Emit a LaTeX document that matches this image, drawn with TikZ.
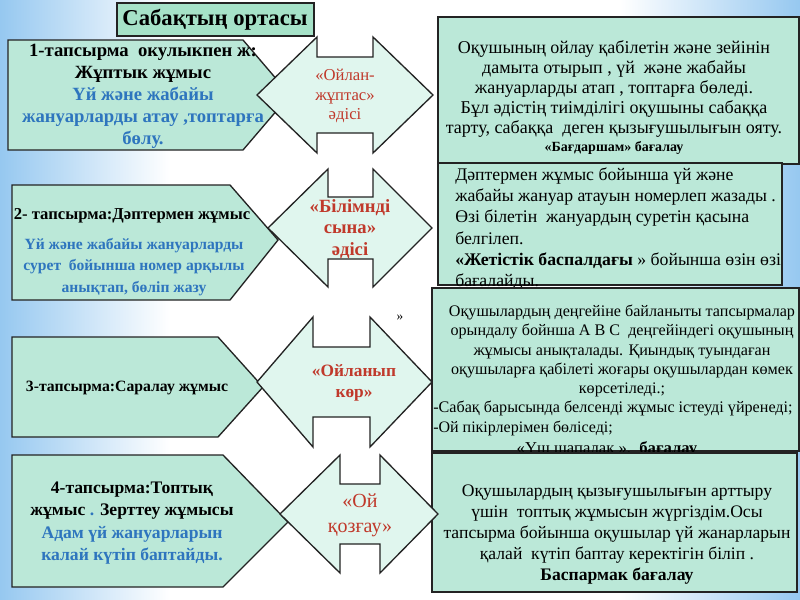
\documentclass[tikz,border=0pt]{standalone}
\usepackage{fontspec}
\setmainfont{Liberation Serif}
\definecolor{mint}{RGB}{187,232,216}
\definecolor{titlemint}{RGB}{166,226,200}
\definecolor{arrowfill}{RGB}{224,246,238}
\definecolor{boxline}{RGB}{35,35,35}
\definecolor{redtext}{RGB}{192,57,43}
\definecolor{bluetext}{RGB}{46,117,190}
\definecolor{bgblue}{RGB}{150,200,240}
\tikzset{
  box/.style={draw=boxline, line width=1pt, fill=mint},
  titlebox/.style={draw=boxline, line width=1pt, fill=titlemint},
  darrow/.style={draw=boxline, line width=1pt, fill=arrowfill, line join=miter},
  txt/.style={inner sep=0pt, align=center},
  ltxt/.style={inner sep=0pt, align=left, anchor=west},
}
\newcommand{\blu}[1]{\textcolor{bluetext}{#1}}
\begin{document}
\begin{tikzpicture}[x=0.75pt,y=-0.75pt]
\useasboundingbox (0,0) rectangle (800,600);
% background
\fill[white] (0,0) rectangle (800,600);
\shade[left color=bgblue, right color=white] (0,0) rectangle (170,600);
\shade[left color=white, right color=bgblue] (620,0) rectangle (800,600);

% right boxes
\draw[box] (438,17) rectangle (799,164);
\node[txt, font=\fontsize{13.5}{15}\selectfont] (r1) at (614,89)
  {Оқушының ойлау қабілетін және зейінін\\дамыта отырып , үй\ \ және жабайы\\жануарларды атап , топтарға бөледі.\\Бұл әдістің тиімділігі оқушыны сабаққа\\тарту, сабаққа\ \ деген қызығушылығын ояту.};
\node[txt, font=\bfseries\fontsize{10.5}{12}\selectfont] (r1b) at (614,148) {«Бағдаршам» бағалау};

\draw[box] (438,163) rectangle (782,285);
\node[ltxt, font=\fontsize{13.3}{16}\selectfont] (r2) at (455,229)
  {Дәптермен жұмыс бойынша үй және\\жабайы жануар атауын номерлеп жазады .\\Өзі білетін\ \ жануардың суретін қасына\\белгілеп.\\\textbf{«Жетістік баспалдағы} » бойынша өзін өзі\\бағалайды.};

\draw[box] (432,288) rectangle (799,451);
\node[txt, font=\fontsize{12.1}{14.6}\selectfont] (r3a) at (622,351)
  {Оқушылардың деңгейіне байланыты тапсырмалар\\орындалу бойнша А В С\ \ деңгейіндегі оқушының\\жұмысы анықталады. Қиындық туындаған\\оқушыларға қабілеті жоғары оқушылардан көмек\\көрсетіледі.;};
\node[ltxt, font=\fontsize{12.1}{14}\selectfont] (r3b) at (433,408) {-Сабақ барысында белсенді жұмыс істеуді үйренеді;};
\node[ltxt, font=\fontsize{12}{15}\selectfont] (r3c) at (433,428) {-Ой пікірлерімен бөліседі;};
\node[txt, font=\fontsize{12.5}{14}\selectfont] (r3d) at (607,449) {«Үш шапалақ ».\ \ \textbf{бағалау}};

\draw[box] (432,453) rectangle (797,592);
\node[txt, font=\fontsize{13.2}{15.75}\selectfont] (r4) at (617,535)
  {Оқушылардың қызығушылығын арттыру\\үшін\ \ топтық жұмысын жүргіздім.Осы\\тапсырма бойынша оқушылар үй жанарларын\\қалай\ \ күтіп баптау керектігін біліп .\\\textbf{Баспармак бағалау}};

% title
\draw[titlebox] (117,3) rectangle (314,36);
\node[txt, font=\bfseries\fontsize{17}{20}\selectfont] (title) at (215,20) {Сабақтың ортасы};

% left pentagons
\draw[box] (8,40) -- (243,40) -- (290,95) -- (243,150) -- (8,150) -- cycle;
\draw[box] (12,185) -- (230,185) -- (278,240) -- (230,300) -- (12,300) -- cycle;
\draw[box] (12,337) -- (218,337) -- (263,387) -- (218,437) -- (12,437) -- cycle;
\draw[box] (12,455) -- (223,455) -- (288,522) -- (223,587) -- (12,587) -- cycle;

% double arrows
\draw[darrow] (257,95) -- (317,37) -- (317,57) -- (373,57) -- (373,37) -- (433,95) -- (373,153) -- (373,133) -- (317,133) -- (317,153) -- cycle;
\draw[darrow] (268,228) -- (328,169) -- (328,197) -- (373,197) -- (373,169) -- (432,228) -- (373,287) -- (373,259) -- (328,259) -- (328,287) -- cycle;
\draw[darrow] (257,382) -- (313,317) -- (313,347) -- (370,347) -- (370,317) -- (432,382) -- (370,447) -- (370,417) -- (313,417) -- (313,447) -- cycle;
\draw[darrow] (280,514) -- (340,455) -- (340,484) -- (380,484) -- (380,455) -- (438,514) -- (380,573) -- (380,544) -- (340,544) -- (340,573) -- cycle;

% left texts
\node[txt, font=\bfseries\fontsize{14}{16.5}\selectfont] (t1) at (143,96)
  {1-тапсырма\ \ окулыкпен ж:\\Жұптык жұмыс\\\blu{Үй және жабайы}\\\blu{жануарларды атау ,топтарға}\\\blu{бөлу.}};
\node[txt, font=\bfseries\fontsize{12.5}{16}\selectfont] (t2a) at (132,216) {2- тапсырма:Дәптермен жұмыс};
\node[txt, font=\bfseries\fontsize{11.7}{16}\selectfont, text=bluetext] (t2b) at (134,267)
  {Үй және жабайы жануарларды\\сурет\ \ бойынша номер арқылы\\анықтап, бөліп жазу};
\node[txt, font=\bfseries\fontsize{11.8}{14}\selectfont] (t3) at (127,388) {3-тапсырма:Саралау жұмыс};
\node[txt, font=\bfseries\fontsize{13.2}{16.7}\selectfont] (t4) at (132,523)
  {4-тапсырма:Топтық\\жұмыс \blu{.} Зерттеу жұмысы\\\blu{Адам үй жануарларын}\\\blu{калай күтіп баптайды.}};

% arrow texts
\node[txt, font=\fontsize{12.5}{14.5}\selectfont, text=redtext] (a1) at (345,96) {«Ойлан-\\жұптас»\\әдісі};
\node[txt, font=\bfseries\fontsize{14}{16}\selectfont, text=redtext] (a2) at (350,229) {«Білімнді\\сына»\\әдісі};
\node[txt, font=\bfseries\fontsize{13}{15.5}\selectfont, text=redtext] (a3) at (354,383) {«Ойланып\\көр»};
\node[txt, font=\fontsize{15}{19}\selectfont, text=redtext] (a4) at (360,515) {«Ой\\қозғау»};

\node[txt, font=\fontsize{10}{12}\selectfont] (q) at (400,318) {»};
\end{tikzpicture}
\end{document}
